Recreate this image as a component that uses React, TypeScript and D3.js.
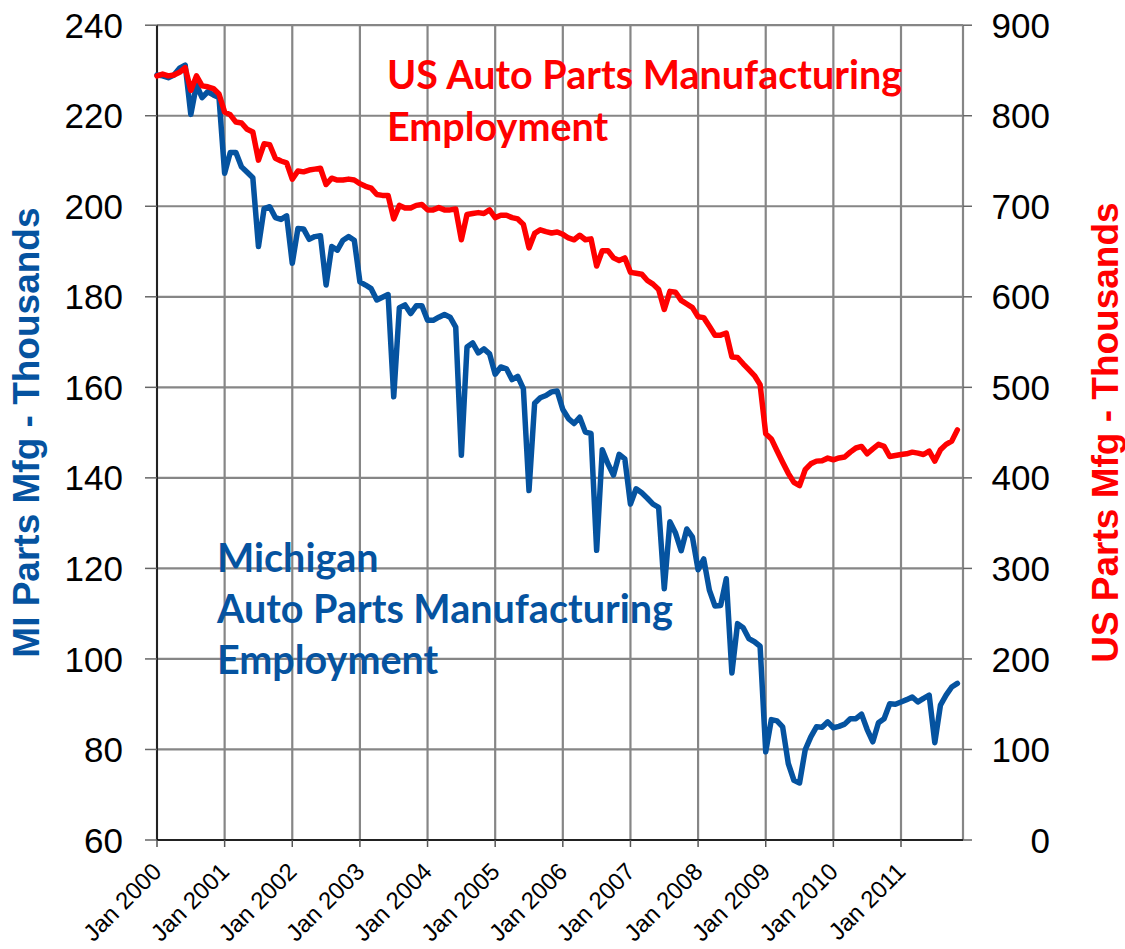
import React from 'react';
import * as d3 from 'd3';

// monthly, Jan 2000 .. Nov 2011
const miParts = [
  229, 228.8, 228.4, 229, 230.5, 231.2, 220.3, 226.8, 224, 225.3, 224.6, 224,
  207.3, 211.9, 211.9, 208.7, 207.5, 206.3, 191.1, 199.5, 199.9, 197.5, 197.1, 197.9,
  187.4, 195.1, 195, 192.7, 193.3, 193.5, 182.6, 191.1, 190.3, 192.5, 193.3, 192.5,
  183.3, 182.6, 181.8, 179.3, 179.9, 180.5, 157.9, 177.6, 178.2, 176.3, 178, 178,
  174.8, 174.8, 175.5, 176.1, 175.5, 173.3, 145, 168.9, 169.8, 167.6, 168.5, 167.4,
  162.9, 164.5, 164.1, 161.7, 162.4, 159.7, 137.2, 156.5, 157.7, 158.2, 159, 159.2,
  155.1, 153.1, 152, 153.4, 150.1, 149.8, 124, 146.2, 143.1, 140.6, 145.2, 144.2,
  134.2, 137.6, 136.7, 135.5, 134.2, 133.5, 115.5, 130.3, 127.8, 123.9, 128.7, 126.9,
  119.7, 122.1, 115.2, 111.7, 111.8, 117.7, 96.9, 107.8, 106.9, 104.5, 103.8, 102.8,
  79.5, 86.6, 86.3, 85, 76.9, 73.2, 72.6, 79.9, 82.8, 85, 84.9, 86.1,
  84.8, 85.1, 85.6, 86.8, 86.8, 87.8, 84.4, 81.7, 85.9, 86.8, 90.1, 90,
  90.5, 91, 91.6, 90.5, 91.3, 92, 81.5, 89.8, 92, 93.8, 94.6,
];

const usParts = [
  844, 846, 844, 845, 848, 853, 828, 844, 833, 832, 830, 824,
  804, 801, 793, 792, 785, 782, 751, 769, 768, 753, 750, 748,
  730, 739, 738, 740, 741, 742, 724, 731, 729, 729, 730, 729,
  725, 722, 720, 713, 712, 712, 686, 701, 698, 698, 701, 702,
  696, 696, 698.5, 696, 696, 697, 663, 691, 692, 693, 692, 696,
  687.5, 690, 690, 687.5, 686, 680, 654, 670, 674, 672, 670.5, 671.6,
  669, 665, 663, 668, 663, 664, 634, 651, 651, 643, 640, 643,
  627, 626, 625, 618, 614, 608, 586, 606, 605, 596, 592, 588,
  578, 577, 567.5, 557.6, 557.6, 560, 533.6, 533, 526, 519.6, 513, 503,
  448.7, 443, 430, 417.3, 405, 395, 391.5, 409, 415.5, 418.5, 419, 421.8,
  420, 422, 423, 428.4, 433, 434.7, 426.6, 432, 437, 434.7, 423.6, 424.7,
  425.8, 426.6, 428.4, 427.3, 425.8, 429.5, 418.5, 431, 437, 440.6, 453,
];

const yearLabels = [
  'Jan 2000', 'Jan 2001', 'Jan 2002', 'Jan 2003', 'Jan 2004', 'Jan 2005',
  'Jan 2006', 'Jan 2007', 'Jan 2008', 'Jan 2009', 'Jan 2010', 'Jan 2011',
];
const leftTicks = [60, 80, 100, 120, 140, 160, 180, 200, 220, 240];
const rightTicks = [0, 100, 200, 300, 400, 500, 600, 700, 800, 900];

const W = 1125, H = 949;
const BLUE = '#0553A0';
const RED = '#FF0000';
const GRID = '#868686';

export default function App() {
  const x = d3.scaleLinear().domain([0, 143]).range([157, 963]);
  const yL = d3.scaleLinear().domain([60, 240]).range([840, 25.2]);
  const yR = d3.scaleLinear().domain([0, 900]).range([840, 25.2]);

  const miLine = d3.line<number>().x((_, i) => x(i)).y(d => yL(d));
  const usLine = d3.line<number>().x((_, i) => x(i)).y(d => yR(d));

  const [x0, x1] = x.range();
  const yTop = yL(240), yBot = yL(60);

  return (
    <svg width={W} height={H} style={{ position: 'absolute', left: 0, top: 0, background: '#fff' }}>
      {/* gridlines */}
      {leftTicks.map(t => (
        <line key={'h' + t} x1={x0} x2={x1} y1={yL(t)} y2={yL(t)} stroke={GRID} strokeWidth={2.2} />
      ))}
      {yearLabels.map((_, k) => (
        <line key={'v' + k} x1={x(k * 12)} x2={x(k * 12)} y1={yTop} y2={yBot} stroke={GRID} strokeWidth={2.2} />
      ))}
      <line x1={x1} x2={x1} y1={yTop} y2={yBot} stroke={GRID} strokeWidth={2.2} />

      {/* axes */}
      <line x1={x0} x2={x0} y1={yTop} y2={yBot} stroke="#000" strokeWidth={1.5} />
      <line x1={x0} x2={x1} y1={yBot} y2={yBot} stroke="#000" strokeWidth={1.5} />
      {leftTicks.map(t => (
        <g key={'lt' + t}>
          <line x1={145} x2={x0} y1={yL(t)} y2={yL(t)} stroke="#666" strokeWidth={1.5} />
          <text x={123} y={yL(t)} dy="0.36em" textAnchor="end" fontFamily="Liberation Sans, Arial, sans-serif" fontSize={35} fill="#000">{t}</text>
        </g>
      ))}
      {rightTicks.map(t => (
        <g key={'rt' + t}>
          <line x1={x1} x2={972} y1={yR(t)} y2={yR(t)} stroke="#666" strokeWidth={1.5} />
          <text x={1050} y={yR(t)} dy="0.36em" textAnchor="end" fontFamily="Liberation Sans, Arial, sans-serif" fontSize={35} fill="#000">{t}</text>
        </g>
      ))}
      {yearLabels.map((lab, k) => (
        <g key={'xt' + k}>
          <line x1={x(k * 12)} x2={x(k * 12)} y1={yBot} y2={yBot + 7} stroke="#555" strokeWidth={1.5} />
          <text transform={`translate(${x(k * 12) + 6},${yBot + 33}) rotate(-45)`} textAnchor="end"
            fontFamily="Liberation Sans, Arial, sans-serif" fontSize={24} fill="#000">{lab}</text>
        </g>
      ))}

      {/* axis titles */}
      <text transform={`translate(39,${(yTop + yBot) / 2}) rotate(-90)`} textAnchor="middle"
        fontFamily="Liberation Sans, Arial, sans-serif" fontWeight="bold" fontSize={37} fill={BLUE}>
        MI Parts Mfg - Thousands
      </text>
      <text transform={`translate(1118,${(yTop + yBot) / 2}) rotate(-90)`} textAnchor="middle"
        fontFamily="Liberation Sans, Arial, sans-serif" fontWeight="bold" fontSize={37} fill={RED}>
        US Parts Mfg - Thousands
      </text>

      {/* series */}
      <path d={miLine(miParts) || ''} fill="none" stroke={BLUE} strokeWidth={5.5} strokeLinejoin="round" strokeLinecap="round" />
      <path d={usLine(usParts) || ''} fill="none" stroke={RED} strokeWidth={5.5} strokeLinejoin="round" strokeLinecap="round" />

      {/* annotations */}
      <g fontFamily="Lato, sans-serif" fontWeight="bold" fontSize={39.5}>
        <text x={387} y={89} fill={RED}>US Auto Parts Manufacturing</text>
        <text x={387} y={141} fill={RED}>Employment</text>
        <text x={217} y={572} fill={BLUE}>Michigan</text>
        <text x={217} y={623} fill={BLUE}>Auto Parts Manufacturing</text>
        <text x={217} y={674} fill={BLUE}>Employment</text>
      </g>
    </svg>
  );
}
